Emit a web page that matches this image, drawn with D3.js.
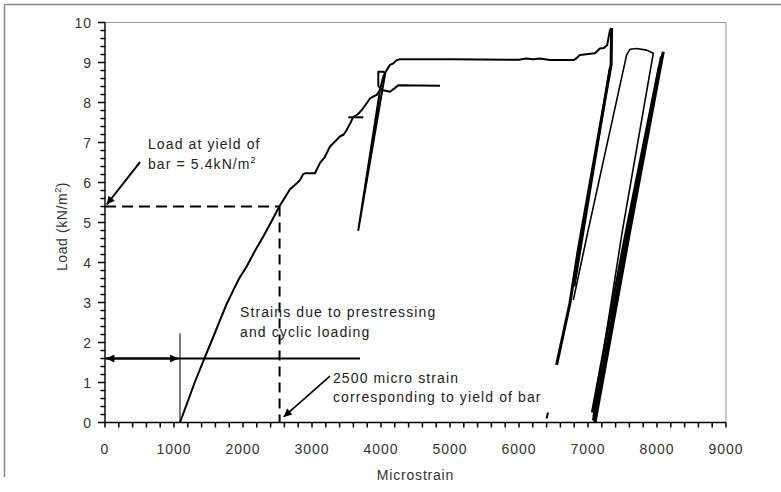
<!DOCTYPE html>
<html><head><meta charset="utf-8">
<script src="https://cdn.jsdelivr.net/npm/d3@7/dist/d3.min.js"></script>
<style>
body{margin:0;background:#fff;}
text{font-family:Arial,"Liberation Sans",sans-serif;}
</style></head>
<body><svg id="c" width="781" height="492"></svg>
<script>
// ---- data (x: microstrain, y: load kN/m^2) ----
const xTicks = [0,1000,2000,3000,4000,5000,6000,7000,8000,9000];
const yTicks = [0,1,2,3,4,5,6,7,8,9,10];
const mainCurve = [[1087,0],[1300,1.0],[1435,1.58],[1560,2.1],[1667,2.56],[1760,2.95],[1860,3.31],[1950,3.62],[2053,3.9],[2170,4.28],[2294,4.65],[2410,5.02],[2526,5.4],[2584,5.56],[2681,5.83],[2780,5.98],[2826,6.06],[2874,6.21],[2898,6.23],[3043,6.23],[3116,6.49],[3180,6.62],[3261,6.9],[3330,7.02],[3405,7.15],[3460,7.2],[3502,7.31],[3560,7.5],[3598,7.64],[3660,7.7],[3720,7.81],[3780,7.95],[3840,8.1],[3890,8.15],[3937,8.19],[3985,8.31],[4033,8.65],[4082,8.81],[4130,8.94],[4180,8.98],[4227,9.06],[4275,9.08],[5000,9.08],[6000,9.07],[6100,9.1],[6200,9.08],[6300,9.1],[6450,9.06],[6787,9.06],[6830,9.1],[6883,9.19],[7101,9.23],[7173,9.35],[7230,9.36],[7279,9.44],[7318,9.81],[7342,9.86]];
const cycle4000 = [[3985,8.31],[3671,4.81],[4060,8.72],[4040,8.77],[3961,8.77],[3961,8.42],[4000,8.32],[4130,8.27],[4200,8.36],[4250,8.43],[4855,8.42]];
const shortTick = [[3526,7.63],[3743,7.63]];
const unloadA = [[7342,9.86],[7335,8.95],[6859,4.31],[6738,2.98],[6545,1.44]];
const unloadA2 = [[7318,8.85],[6800,3.4]];
const loopCurve = [[6787,3.06],[7003,4.81],[7560,9.19],[7608,9.33],[7705,9.35],[7850,9.31],[7946,9.23],[7500,4.81],[7076,0.15]];
const reloadC = [[7101,0],[7608,4.81],[8091,9.27]];
const reloadC2 = [[7075,0.05],[7560,4.6],[8060,9.15]];
const reloadC3 = [[7060,0.25],[7520,4.5],[8030,8.9]];
const smallMark = [[6400,0.1],[6420,0.25]];
const yieldLoad = 5.4, yieldStrain = 2530;
const prestrainLoad = 1.6, prestrainStrain = 1087;

const svg=d3.select("#c");
const x=d3.scaleLinear().domain([0,9000]).range([105,726]);
const y=d3.scaleLinear().domain([0,10]).range([422.5,22.5]);

// outer frame
svg.append("line").attr("x1",4.5).attr("y1",4.5).attr("x2",781).attr("y2",4.5).attr("stroke","#8a8a8a").attr("stroke-width",1.5);
svg.append("line").attr("x1",4.5).attr("y1",4.5).attr("x2",4.5).attr("y2",477).attr("stroke","#8a8a8a").attr("stroke-width",1.5);

// plot frame (top/right)
svg.append("path").attr("d",`M${x(0)},${y(10)}H${x(9000)}V${y(0)}`).attr("fill","none").attr("stroke","#999").attr("stroke-width",1);

const defs=svg.append("defs");
defs.append("marker").attr("id","ah").attr("viewBox","0 0 10 10").attr("refX",10).attr("refY",5)
  .attr("markerWidth",10).attr("markerHeight",8).attr("markerUnits","userSpaceOnUse").attr("orient","auto-start-reverse")
  .append("path").attr("d","M0,0L10,5L0,10Z").attr("fill","#000");

// axes: ticks built from the scales
const yMinor=d3.range(0,51).map(i=>i/5);
const xMinor=d3.range(0,46).map(i=>i*200);
let tp="";
yMinor.forEach((v,i)=>{const L=(i%5===0)?7:4.5; tp+=`M${x(0)-L},${y(v)}H${x(0)}`;});
xMinor.forEach((v,i)=>{const L=5; tp+=`M${x(v)},${y(0)}V${y(0)+L}`;});
svg.append("path").attr("d",tp).attr("fill","none").attr("stroke","#000").attr("stroke-width",1.5);
svg.append("path").attr("d",`M${x(0)},${y(10)}V${y(0)}H${x(9000)}`).attr("fill","none").attr("stroke","#000").attr("stroke-width",1.4);
yTicks.forEach(d=>svg.append("text").attr("x",92).attr("y",y(d)).attr("dy","0.36em").attr("text-anchor","end")
  .attr("font-size",14).attr("letter-spacing",1).attr("fill","#333").text(d));
xTicks.forEach(d=>svg.append("text").attr("x",x(d)).attr("y",454).attr("text-anchor","middle")
  .attr("font-size",14).attr("letter-spacing",1).attr("fill","#333").text(d));

svg.append("text").attr("x",(x(0)+x(9000))/2).attr("y",480).attr("text-anchor","middle").attr("font-size",14).attr("letter-spacing",0.8).attr("fill","#333").text("Microstrain");
const yt=svg.append("text").attr("transform",`translate(67,${(y(0)+y(10))/2+4}) rotate(-90)`).attr("text-anchor","middle").attr("font-size",14).attr("letter-spacing",0.6).attr("fill","#333");
yt.append("tspan").text("Load (kN/m");
yt.append("tspan").attr("font-size",9).attr("dy",-6).text("2");
yt.append("tspan").attr("dy",6).text(")");

// annotation lines
const g=svg.append("g");
g.append("line").attr("x1",x(0)).attr("y1",y(yieldLoad)).attr("x2",x(yieldStrain)).attr("y2",y(yieldLoad))
  .attr("stroke","#000").attr("stroke-width",2).attr("stroke-dasharray","11,6");
g.append("line").attr("x1",x(yieldStrain)).attr("y1",y(yieldLoad)).attr("x2",x(yieldStrain)).attr("y2",y(0))
  .attr("stroke","#000").attr("stroke-width",2).attr("stroke-dasharray","10,6");
g.append("line").attr("x1",x(prestrainStrain)).attr("y1",y(2.23)).attr("x2",x(prestrainStrain)).attr("y2",y(0)).attr("stroke","#000").attr("stroke-width",1);
g.append("line").attr("x1",x(0)).attr("y1",y(prestrainLoad)).attr("x2",x(3696)).attr("y2",y(prestrainLoad)).attr("stroke","#000").attr("stroke-width",2);
g.append("line").attr("x1",x(20)).attr("y1",y(prestrainLoad)).attr("x2",x(1060)).attr("y2",y(prestrainLoad)).attr("stroke","#000").attr("stroke-width",2)
  .attr("marker-start","url(#ah)").attr("marker-end","url(#ah)");
g.append("line").attr("x1",x(507)).attr("y1",y(6.51)).attr("x2",x(25)).attr("y2",y(5.45)).attr("stroke","#000").attr("stroke-width",2).attr("marker-end","url(#ah)");
g.append("line").attr("x1",x(3260)).attr("y1",y(1.16)).attr("x2",x(2590)).attr("y2",y(0.14)).attr("stroke","#000").attr("stroke-width",1.6).attr("marker-end","url(#ah)");

// curves
const line=d3.line().x(d=>x(d[0])).y(d=>y(d[1]));
const curves=[[mainCurve,2],[cycle4000,2],[shortTick,2],[unloadA,3],[unloadA2,2.5],[loopCurve,1.6],[reloadC,3],[reloadC2,2.5],[reloadC3,2.5],[smallMark,2]];
curves.forEach(([d,w])=>svg.append("path").attr("d",line(d)).attr("fill","none").attr("stroke","#000").attr("stroke-width",w).attr("stroke-linejoin","round"));

// texts
const labels=[
  {t:"Load at yield of",x:623,y:6.84},
  {t:"Strains due to prestressing",x:1957,y:2.64},
  {t:"and cyclic loading",x:1957,y:2.14},
  {t:"2500 micro strain",x:3304,y:0.99},
  {t:"corresponding to yield of bar",x:3304,y:0.51}
];
labels.forEach(l=>svg.append("text").attr("x",x(l.x)).attr("y",y(l.y)).attr("font-size",14).attr("letter-spacing",1.1).attr("fill","#222").text(l.t));
const bt=svg.append("text").attr("x",x(623)).attr("y",y(6.34)).attr("font-size",14).attr("letter-spacing",1.1).attr("fill","#222");
bt.append("tspan").text("bar = 5.4kN/m");
bt.append("tspan").attr("font-size",9).attr("dy",-6).text("2");
</script></body></html>
